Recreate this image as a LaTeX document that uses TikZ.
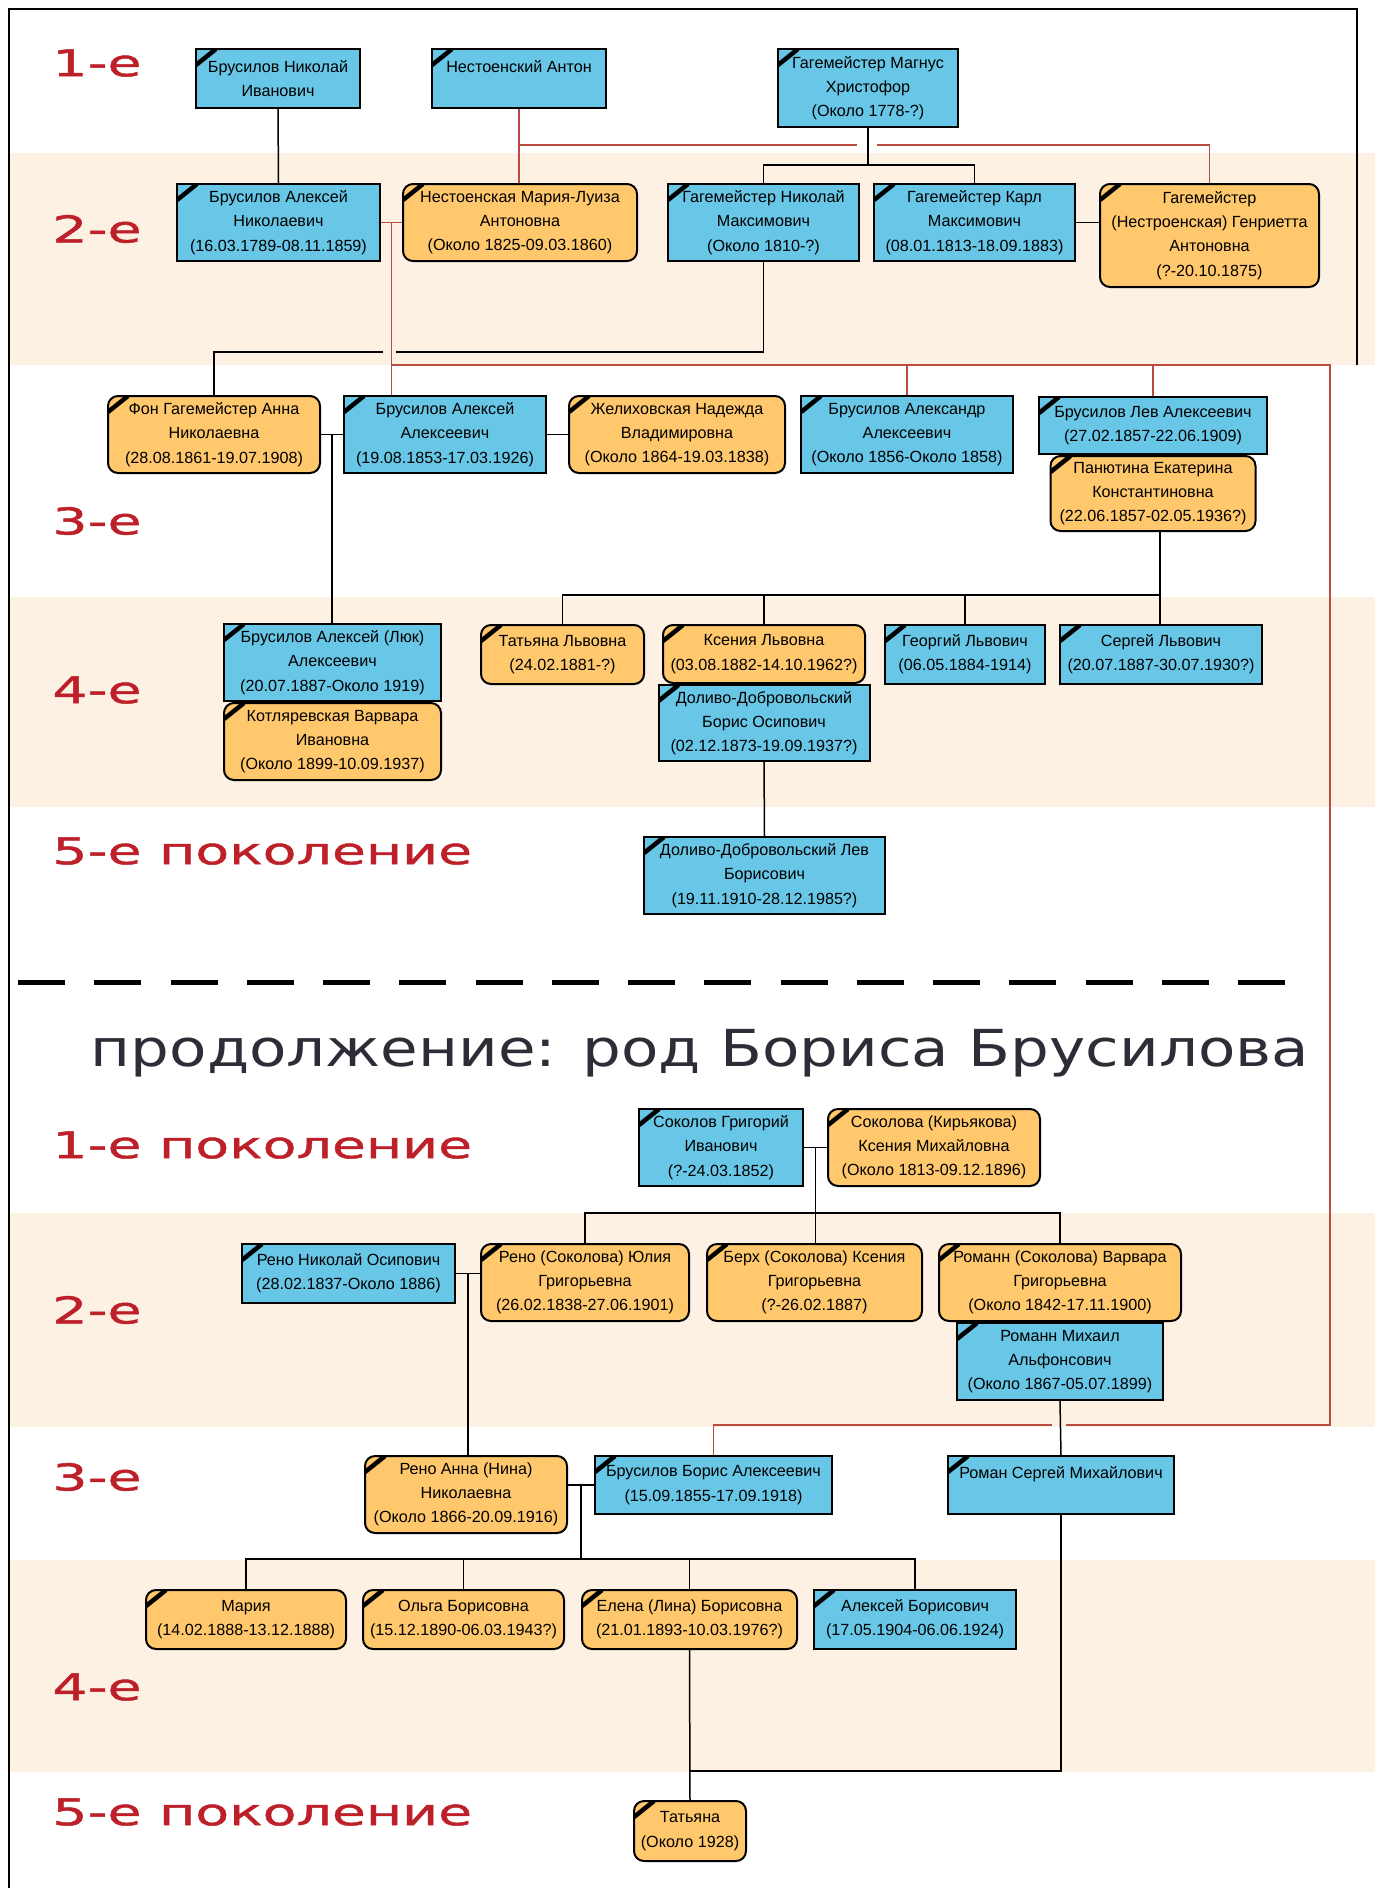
\documentclass[tikz,border=0pt]{standalone}
\usepackage{fontspec}
\setmainfont{Liberation Sans}
\newfontfamily\genfont[FakeStretch=1.5,FakeBold=1.2]{DejaVu Sans}
\newfontfamily\titlefont[FakeStretch=1.2]{DejaVu Sans}
\usetikzlibrary{calc}
\definecolor{manblue}{RGB}{104,198,230}
\definecolor{womanorange}{RGB}{255,200,108}
\definecolor{band}{RGB}{253,241,227}
\definecolor{linered}{RGB}{185,75,65}
\definecolor{genred}{RGB}{190,32,42}
\definecolor{titlegray}{RGB}{45,45,55}

\begin{document}
\begin{tikzpicture}[x=0.2mm,y=-0.2mm,
	wh/.style 2 args={minimum width=#1*0.2mm,minimum height=#2*0.2mm},
	person/.style={draw=black,line width=0.4mm,align=center,inner sep=1pt,anchor=north west,
		font=\fontsize{9.2}{13.8}\selectfont,
		path picture={\draw[line width=0.9mm] ([yshift=-3.2mm]path picture bounding box.north west) -- ([xshift=4mm]path picture bounding box.north west);}},
	man/.style={person,fill=manblue},
	woman/.style={person,fill=womanorange,rounded corners=2mm},
	kin/.style={line width=0.3mm},
	kinred/.style={kin,draw=linered},
	gen/.style={anchor=west,inner sep=0pt,text=genred,font=\genfont\fontsize{21}{23}\selectfont}]
				\useasboundingbox (0,0) rectangle (1375,1888);
				\fill[band] (9,153) rectangle (1375,365);
				\fill[band] (9,597) rectangle (1375,807);
				\fill[band] (9,1213) rectangle (1375,1427);
				\fill[band] (9,1560) rectangle (1375,1772);
				\draw[line width=0.3mm] (1357,365) -- (1357,9) -- (9,9) -- (9,1888);
				%
				\node (l1) [gen] at (52,63) {1-е};
				\node (l2) [gen] at (52,229) {2-е};
				\node (l3) [gen] at (52,521) {3-е};
				\node (l4) [gen] at (52,690) {4-е};
				\node (l5) [gen] at (52,851) {5-е поколение};
				%
				\node (A1) [man, wh={164}{59}] at (195,48) {Брусилов Николай\\Иванович};
				\node (A2) [man, wh={174}{59}] at (431,48) {Нестоенский Антон\\~};
				\node (A3) [man, wh={180}{78}] at (777,48) {Гагемейстер Магнус\\Христофор\\(Около 1778-?)};
				\node (B1) [man, wh={203}{77}] at (176,183) {Брусилов Алексей\\Николаевич\\(16.03.1789-08.11.1859)};
				\node (B2) [woman, wh={234}{77}] at (402,183) {Нестоенская Мария-Луиза\\Антоновна\\(Около 1825-09.03.1860)};
				\node (B3) [man, wh={191}{77}] at (667,183) {Гагемейстер Николай\\Максимович\\(Около 1810-?)};
				\node (B4) [man, wh={201}{77}] at (873,183) {Гагемейстер Карл\\Максимович\\(08.01.1813-18.09.1883)};
				\node (B5) [woman, wh={219}{103}] at (1099,183) {Гагемейстер\\(Нестроенская) Генриетта\\Антоновна\\(?-20.10.1875)};
				\node (C1) [woman, wh={212}{77}] at (107,395) {Фон Гагемейстер Анна\\Николаевна\\(28.08.1861-19.07.1908)};
				\node (C2) [man, wh={202}{77}] at (343,395) {Брусилов Алексей\\Алексеевич\\(19.08.1853-17.03.1926)};
				\node (C3) [woman, wh={216}{77}] at (568,395) {Желиховская Надежда\\Владимировна\\(Около 1864-19.03.1838)};
				\node (C4) [man, wh={212}{77}] at (800,395) {Брусилов Александр\\Алексеевич\\(Около 1856-Около 1858)};
				\node (C5) [man, wh={228}{57}] at (1038,396) {Брусилов Лев Алексеевич\\(27.02.1857-22.06.1909)};
				\node (C6) [woman, wh={205}{75}, anchor=north] at (C5.south) {Панютина Екатерина\\Константиновна\\(22.06.1857-02.05.1936?)};
				\node (D1) [man, wh={217}{77}] at (223,623) {Брусилов Алексей (Люк)\\Алексеевич\\(20.07.1887-Около 1919)};
				\node (D1b) [woman, wh={217}{77}, anchor=north] at (D1.south) {Котляревская Варвара\\Ивановна\\(Около 1899-10.09.1937)};
				\node (D2) [woman, wh={163}{59}] at (480,624) {Татьяна Львовна\\(24.02.1881-?)};
				\node (D3) [woman, wh={202}{58}] at (662,624) {Ксения Львовна\\(03.08.1882-14.10.1962?)};
				\node (D3b) [man, wh={211}{76}, anchor=north] at (D3.south) {Доливо-Добровольский\\Борис Осипович\\(02.12.1873-19.09.1937?)};
				\node (D4) [man, wh={160}{59}] at (884,624) {Георгий Львович\\(06.05.1884-1914)};
				\node (D5) [man, wh={202}{59}] at (1059,624) {Сергей Львович\\(20.07.1887-30.07.1930?)};
				\node (E1) [man, wh={241}{77}] at (643,836) {Доливо-Добровольский Лев\\Борисович\\(19.11.1910-28.12.1985?)};
				%
				\draw[kin] (A1.south) -- (B1.north);
				\draw[kinred] (A2.south) -- (A2.south |- B2.north);
				\coordinate (r1) at (857,145);
				\coordinate (r2) at (877,145);
				\draw[kinred] (A2.south |- r1) -- (r1);
				\draw[kinred] (r2) -| (B5.north);
				\draw[kin] (A3.south) -- ++(0,37) -| (B3.north);
				\draw[kin] (A3.south) -- ++(0,37) -| (B4.north);
				\draw[kinred] (B1.east) -- (B2.west);
				\draw[kin] (B4.east) -- (B4.east -| B5.west);
				%
				\coordinate (m1) at ($(B1.east)!.5!(B2.west)$);
				\draw[kinred] (m1) -- (m1 |- C2.north);
				\coordinate (b1) at (396,352);
				\coordinate (b2) at (383,352);
				\draw[kin] (B3.south) |- (b1);
				\draw[kin] (b2) -| (C1.north);
				\coordinate (rb) at (m1 |- 0,365);
				\draw[kinred] (rb) -| (C4.north);
				\draw[kinred] (rb) -| (C5.north);
				\coordinate (r3) at (1066,1425);
				\coordinate (r4) at (1052,1425);
				\draw[kinred] (rb) -| (1330,1425) -- (r3);
				%
				\draw[kin] (C1.east) -- (C2.west);
				\draw[kin] (C2.east) -- (C3.west);
				\coordinate (m2) at ($(C1.east)!.5!(C2.west)$);
				\draw[kin] (m2) -- (m2 |- D1.north);
				\coordinate (bus4) at (1160,595);
				\draw[kin] (bus4 |- C6.south) -- (bus4 |- D5.north);
				\foreach \n in {D2,D3,D4} \draw[kin] (\n.north) |- (bus4);
				\draw[kin] (D3b.south) -- (E1.north);
				%
				\draw[line width=1mm, dash pattern=on 9.4mm off 5.85mm] (18,982) -- (1285,982);
				\node (title) [font=\titlefont\fontsize{29}{32}\selectfont, text=titlegray] at (700,1053) {продолжение: род Бориса Брусилова};
				%
				\node (k1) [gen] at (52,1145) {1-е поколение};
				\node (k2) [gen] at (52,1310) {2-е};
				\node (k3) [gen] at (52,1477) {3-е};
				\node (k4) [gen] at (52,1687) {4-е};
				\node (k5) [gen] at (52,1812) {5-е поколение};
				%
				\node (F1) [man, wh={164}{77}] at (638,1108) {Соколов Григорий\\Иванович\\(?-24.03.1852)};
				\node (F2) [woman, wh={212}{77}] at (827,1108) {Соколова (Кирьякова)\\Ксения Михайловна\\(Около 1813-09.12.1896)};
				\node (G1) [man, wh={213}{59}] at (241,1243) {Рено Николай Осипович\\(28.02.1837-Около 1886)};
				\node (G2) [woman, wh={208}{77}] at (480,1243) {Рено (Соколова) Юлия\\Григорьевна\\(26.02.1838-27.06.1901)};
				\node (G3) [woman, wh={215}{77}] at (706,1243) {Берх (Соколова) Ксения\\Григорьевна\\(?-26.02.1887)};
				\node (G4) [woman, wh={242}{77}] at (938,1243) {Романн (Соколова) Варвара\\Григорьевна\\(Около 1842-17.11.1900)};
				\node (G4b) [man, wh={206}{77}, anchor=north] at (G4.south) {Романн Михаил\\Альфонсович\\(Около 1867-05.07.1899)};
				\node (H1) [woman, wh={202}{77}] at (364,1455) {Рено Анна (Нина)\\Николаевна\\(Около 1866-20.09.1916)};
				\node (H2) [man, wh={237}{58}] at (594,1455) {Брусилов Борис Алексеевич\\(15.09.1855-17.09.1918)};
				\node (H3) [man, wh={226}{58}] at (947,1455) {Роман Сергей Михайлович\\~};
				\node (I1) [woman, wh={200}{59}] at (145,1589) {Мария\\(14.02.1888-13.12.1888)};
				\node (I2) [woman, wh={201}{59}] at (362,1589) {Ольга Борисовна\\(15.12.1890-06.03.1943?)};
				\node (I3) [woman, wh={215}{59}] at (581,1589) {Елена (Лина) Борисовна\\(21.01.1893-10.03.1976?)};
				\node (I4) [man, wh={202}{59}] at (813,1589) {Алексей Борисович\\(17.05.1904-06.06.1924)};
				\node (J1) [woman, wh={112}{60}] at (633,1800) {Татьяна\\(Около 1928)};
				%
				\draw[kin] (F1.east) -- (F2.west);
				\coordinate (m5) at ($(F1.east)!.5!(F2.west)$);
				\draw[kin] (m5) -- (m5 |- G3.north);
				\coordinate (bus5) at (m5 |- 0,1213);
				\foreach \n in {G2,G4} \draw[kin] (\n.north) |- (bus5);
				\draw[kin] (G1.east) -- (G1.east -| G2.west);
				\coordinate (m6) at ($(G1.east)!.5!(G1.east -| G2.west)$);
				\draw[kin] (m6) -- (m6 |- H1.north);
				\draw[kin] (G4b.south) -- (H3.north);
				\draw[kinred] (r4) -| (H2.north);
				\draw[kin] (H2.west -| H1.east) -- (H2.west);
				\coordinate (m7) at ($(H2.west -| H1.east)!.5!(H2.west)$);
				\coordinate (bus7) at (m7 |- 0,1559);
				\draw[kin] (m7) -- (bus7);
				\foreach \n in {I1,I2,I3,I4} \draw[kin] (\n.north) |- (bus7);
				\draw[kin] (I3.south) -- (J1.north);
				\draw[kin] (H3.south) |- (I3.south |- 0,1771);
			\end{tikzpicture}
\end{document}
